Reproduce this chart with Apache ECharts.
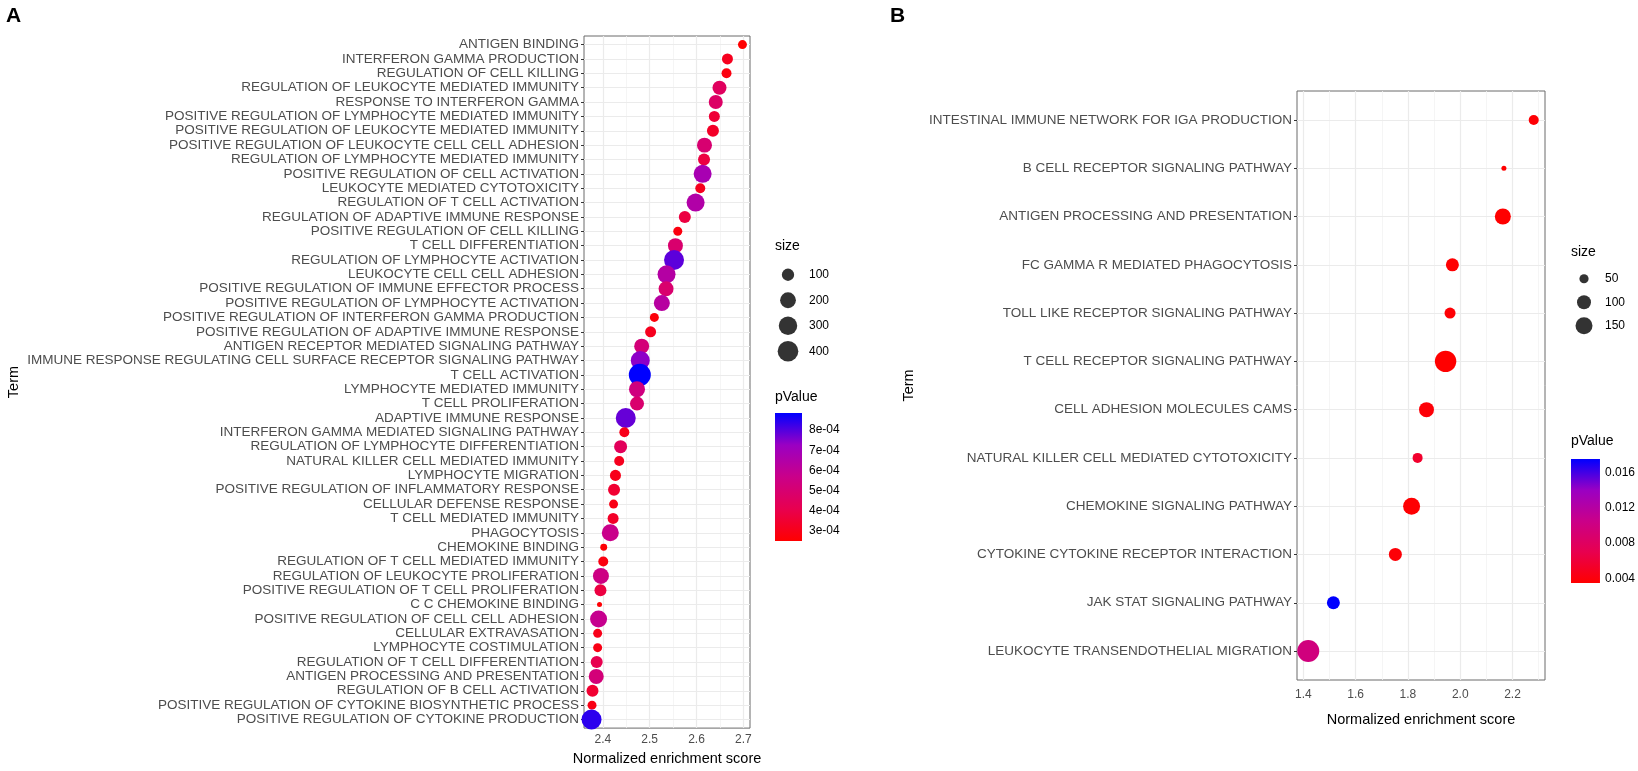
<!DOCTYPE html>
<html>
<head>
<meta charset="utf-8">
<script src="https://cdn.jsdelivr.net/npm/echarts@6/dist/echarts.min.js"></script>
<style>
  html, body { margin: 0; background: #fff; }
  #chart { width: 1638px; height: 771px; }
</style>
</head>
<body>
<div id="chart"></div>
<script>
// ---- panel A: GO terms ----
const termsA = [
  "ANTIGEN BINDING", "INTERFERON GAMMA PRODUCTION", "REGULATION OF CELL KILLING",
  "REGULATION OF LEUKOCYTE MEDIATED IMMUNITY", "RESPONSE TO INTERFERON GAMMA",
  "POSITIVE REGULATION OF LYMPHOCYTE MEDIATED IMMUNITY", "POSITIVE REGULATION OF LEUKOCYTE MEDIATED IMMUNITY",
  "POSITIVE REGULATION OF LEUKOCYTE CELL CELL ADHESION", "REGULATION OF LYMPHOCYTE MEDIATED IMMUNITY",
  "POSITIVE REGULATION OF CELL ACTIVATION", "LEUKOCYTE MEDIATED CYTOTOXICITY", "REGULATION OF T CELL ACTIVATION",
  "REGULATION OF ADAPTIVE IMMUNE RESPONSE", "POSITIVE REGULATION OF CELL KILLING", "T CELL DIFFERENTIATION",
  "REGULATION OF LYMPHOCYTE ACTIVATION", "LEUKOCYTE CELL CELL ADHESION", "POSITIVE REGULATION OF IMMUNE EFFECTOR PROCESS",
  "POSITIVE REGULATION OF LYMPHOCYTE ACTIVATION", "POSITIVE REGULATION OF INTERFERON GAMMA PRODUCTION",
  "POSITIVE REGULATION OF ADAPTIVE IMMUNE RESPONSE", "ANTIGEN RECEPTOR MEDIATED SIGNALING PATHWAY",
  "IMMUNE RESPONSE REGULATING CELL SURFACE RECEPTOR SIGNALING PATHWAY", "T CELL ACTIVATION",
  "LYMPHOCYTE MEDIATED IMMUNITY", "T CELL PROLIFERATION", "ADAPTIVE IMMUNE RESPONSE",
  "INTERFERON GAMMA MEDIATED SIGNALING PATHWAY", "REGULATION OF LYMPHOCYTE DIFFERENTIATION",
  "NATURAL KILLER CELL MEDIATED IMMUNITY", "LYMPHOCYTE MIGRATION", "POSITIVE REGULATION OF INFLAMMATORY RESPONSE",
  "CELLULAR DEFENSE RESPONSE", "T CELL MEDIATED IMMUNITY", "PHAGOCYTOSIS", "CHEMOKINE BINDING",
  "REGULATION OF T CELL MEDIATED IMMUNITY", "REGULATION OF LEUKOCYTE PROLIFERATION",
  "POSITIVE REGULATION OF T CELL PROLIFERATION", "C C CHEMOKINE BINDING", "POSITIVE REGULATION OF CELL CELL ADHESION",
  "CELLULAR EXTRAVASATION", "LYMPHOCYTE COSTIMULATION", "REGULATION OF T CELL DIFFERENTIATION",
  "ANTIGEN PROCESSING AND PRESENTATION", "REGULATION OF B CELL ACTIVATION",
  "POSITIVE REGULATION OF CYTOKINE BIOSYNTHETIC PROCESS", "POSITIVE REGULATION OF CYTOKINE PRODUCTION"
];
const nesA = [
  2.698, 2.666, 2.664, 2.649, 2.641, 2.638, 2.635, 2.617, 2.616, 2.613, 2.608, 2.598,
  2.575, 2.560, 2.555, 2.552, 2.536, 2.535, 2.526, 2.510, 2.502, 2.483, 2.480, 2.479,
  2.473, 2.473, 2.449, 2.446, 2.438, 2.435, 2.427, 2.424, 2.423, 2.422, 2.416, 2.402,
  2.401, 2.396, 2.395, 2.393, 2.391, 2.389, 2.389, 2.387, 2.386, 2.378, 2.377, 2.376
];
const sizeA = [
  40, 72, 54, 143, 143, 72, 92, 172, 92, 281, 54, 281,
  92, 40, 172, 369, 281, 172, 206, 40, 72, 172, 324, 470,
  206, 143, 369, 54, 116, 54, 72, 92, 40, 72, 242, 21,
  54, 206, 92, 15, 242, 40, 40, 92, 172, 92, 40, 369
];
const pvalA = [
  0.00025, 0.00031, 0.00028, 0.00045, 0.00047, 0.00036, 0.00033, 0.00050, 0.00038, 0.00068, 0.00031, 0.00065,
  0.00038, 0.00028, 0.00049, 0.00079, 0.00064, 0.00049, 0.00063, 0.00027, 0.00031, 0.00052, 0.00074, 0.000885,
  0.00054, 0.00049, 0.00078, 0.00030, 0.00044, 0.00031, 0.00030, 0.00035, 0.00029, 0.00033, 0.00057, 0.00026,
  0.00028, 0.00055, 0.00038, 0.00026, 0.00058, 0.00030, 0.00029, 0.00041, 0.00052, 0.00035, 0.00029, 0.00084
];
const xTicksA = [2.4, 2.5, 2.6, 2.7];
const xMinorA = [2.45, 2.55, 2.65];
const sizeBreaksA = [100, 200, 300, 400];
const pBreaksA = [0.0003, 0.0004, 0.0005, 0.0006, 0.0007, 0.0008];

// ---- panel B: KEGG pathways ----
const termsB = [
  "INTESTINAL IMMUNE NETWORK FOR IGA PRODUCTION", "B CELL RECEPTOR SIGNALING PATHWAY",
  "ANTIGEN PROCESSING AND PRESENTATION", "FC GAMMA R MEDIATED PHAGOCYTOSIS",
  "TOLL LIKE RECEPTOR SIGNALING PATHWAY", "T CELL RECEPTOR SIGNALING PATHWAY",
  "CELL ADHESION MOLECULES CAMS", "NATURAL KILLER CELL MEDIATED CYTOTOXICITY",
  "CHEMOKINE SIGNALING PATHWAY", "CYTOKINE CYTOKINE RECEPTOR INTERACTION",
  "JAK STAT SIGNALING PATHWAY", "LEUKOCYTE TRANSENDOTHELIAL MIGRATION"
];
const nesB = [2.281, 2.167, 2.163, 1.970, 1.961, 1.944, 1.871, 1.837, 1.814, 1.752, 1.515, 1.419];
const sizeB = [56, 36, 132, 87, 65, 250, 115, 56, 150, 87, 87, 265];
const pvalB = [0.0037, 0.0035, 0.0035, 0.0036, 0.0037, 0.0035, 0.0038, 0.0055, 0.0036, 0.0038, 0.0175, 0.0098];
const xTicksB = [1.4, 1.6, 1.8, 2.0, 2.2];
const xMinorB = [1.5, 1.7, 1.9, 2.1, 2.3];
const sizeBreaksB = [50, 100, 150];
const pBreaksB = [0.004, 0.008, 0.012, 0.016];

const FONT = '"Liberation Sans", Arial, sans-serif';
// red -> blue, stepped through Lab like ggplot's gradient
const pColors = ["#FF0000", "#E8004F", "#CA0089", "#9A00C3", "#0000FF"];

function padRange(vals) {
  const lo = Math.min(...vals), hi = Math.max(...vals);
  const d = (hi - lo) * 0.05;
  return [lo - d, hi + d];
}

// area-like size scale (ggplot scale_size)
function sizeScale(vals) {
  const lo = Math.min(...vals), hi = Math.max(...vals);
  return s => 5 + 17 * Math.sqrt(Math.max(0, s - lo) / (hi - lo));
}

function expLabel(v) {
  const e = Math.floor(Math.log10(v) + 1e-9);
  const m = Math.round(v / Math.pow(10, e));
  return m + "e" + (e < 0 ? "-" : "+") + String(Math.abs(e)).padStart(2, "0");
}

const option = {
  animation: false,
  backgroundColor: "#fff",
  textStyle: { fontFamily: FONT },
  title: [],
  grid: [],
  xAxis: [],
  yAxis: [],
  visualMap: [],
  series: []
};

function addPanel(p) {
  const o = option;
  const n = p.terms.length;
  const [xmin, xmax] = padRange(p.nes);
  const sz = sizeScale(p.size);
  const pmin = Math.min(...p.pval), pmax = Math.max(...p.pval);
  const rows = p.terms.map((t, i) => i);

  // main plot
  const g = o.grid.length;
  o.grid.push({ left: p.plot[0], top: p.plot[1], width: p.plot[2], height: p.plot[3],
    show: true, borderColor: "#6b6b6b", borderWidth: 1, backgroundColor: "#fff" });
  const xi = o.xAxis.length, yi = o.yAxis.length;
  o.xAxis.push({
    type: "value", gridIndex: g, min: xmin, max: xmax,
    axisLine: { show: false }, splitLine: { show: false },
    axisTick: { customValues: p.xTicks, length: 3, lineStyle: { color: "#333" } },
    axisLabel: { customValues: p.xTicks, formatter: v => v.toFixed(1), color: "#4d4d4d", fontSize: 12, margin: p.tickMargin },
    name: "Normalized enrichment score", nameLocation: "middle", nameGap: p.xNameGap,
    nameTextStyle: { color: "#000", fontSize: 14.5 }
  });
  o.yAxis.push({
    type: "value", gridIndex: g, inverse: true, min: -0.6, max: n - 0.4,
    axisLine: { show: false }, splitLine: { show: false },
    axisTick: { customValues: rows, length: 3, lineStyle: { color: "#333" } },
    axisLabel: { customValues: rows, formatter: v => p.terms[Math.round(v)] || "",
      color: "#4d4d4d", fontSize: p.labelSize, margin: 5 },
    name: "Term", nameLocation: "middle", nameGap: p.termGap,
    nameTextStyle: { color: "#000", fontSize: 14.5 }
  });

  const grid = [];
  p.xTicks.forEach(v => grid.push({ xAxis: v, lineStyle: { color: "#ebebeb", width: 1.2, type: "solid" } }));
  p.xMinor.forEach(v => grid.push({ xAxis: v, lineStyle: { color: "#f3f3f3", width: 0.8, type: "solid" } }));
  rows.forEach(v => grid.push({ yAxis: v, lineStyle: { color: "#ebebeb", width: 1.2, type: "solid" } }));

  const si = o.series.length;
  o.series.push({
    type: "scatter", xAxisIndex: xi, yAxisIndex: yi, z: 10, silent: true,
    data: p.nes.map((x, i) => [x, i, p.pval[i], p.size[i]]),
    symbolSize: v => sz(v[3]),
    itemStyle: { opacity: 1 },
    markLine: { z: 1, silent: true, symbol: ["none", "none"], label: { show: false },
      emphasis: { disabled: true }, animation: false, data: grid }
  });
  o.visualMap.push({
    type: "continuous", show: false, seriesIndex: si, dimension: 2,
    min: pmin, max: pmax, inRange: { color: pColors }
  });

  // size legend
  const L = p.legend;
  o.title.push({ text: "size", left: L.x, top: L.sizeTitle, padding: 0,
    textStyle: { fontFamily: FONT, fontSize: 14, fontWeight: "normal", color: "#000" } });
  const g2 = o.grid.length;
  const kh = L.keyH * p.sizeBreaks.length;
  o.grid.push({ left: L.x + 1, top: L.sizeTop, width: 24, height: kh });
  const xi2 = o.xAxis.length, yi2 = o.yAxis.length;
  o.xAxis.push({ type: "category", gridIndex: g2, data: ["k"], show: false });
  o.yAxis.push({ type: "category", gridIndex: g2, inverse: true, position: "right",
    data: p.sizeBreaks.map(String),
    axisLine: { show: false }, axisTick: { show: false }, splitLine: { show: false },
    axisLabel: { color: "#000", fontSize: 12, margin: 9 } });
  o.series.push({ type: "scatter", xAxisIndex: xi2, yAxisIndex: yi2, silent: true,
    itemStyle: { color: "#000" },
    data: p.sizeBreaks.map((b, i) => ({ value: [0, i], symbolSize: sz(b) })) });

  // colour bar
  o.title.push({ text: "pValue", left: L.x, top: L.pTitle, padding: 0,
    textStyle: { fontFamily: FONT, fontSize: 14, fontWeight: "normal", color: "#000" } });
  const g3 = o.grid.length;
  o.grid.push({ left: L.x, top: L.barTop, width: L.barW, height: L.barH });
  const xi3 = o.xAxis.length, yi3 = o.yAxis.length;
  o.xAxis.push({ type: "category", gridIndex: g3, data: ["c"], show: false });
  const tickWhite = { customValues: p.pBreaks, inside: true, length: Math.round(L.barW / 5), lineStyle: { color: "#fff", width: 1 } };
  o.yAxis.push({ type: "value", gridIndex: g3, position: "right", min: pmin, max: pmax, z: 10,
    axisLine: { show: false }, splitLine: { show: false }, axisTick: tickWhite,
    axisLabel: { customValues: p.pBreaks, formatter: p.pFormat, color: "#000", fontSize: 12, margin: L.labelGap } });
  o.yAxis.push({ type: "value", gridIndex: g3, position: "left", min: pmin, max: pmax, z: 10,
    axisLine: { show: false }, splitLine: { show: false }, axisTick: tickWhite,
    axisLabel: { show: false } });
  o.series.push({ type: "bar", xAxisIndex: xi3, yAxisIndex: yi3, stack: "cb" + g3, silent: true,
    barWidth: "100%", data: [pmin], itemStyle: { color: "rgba(0,0,0,0)" } });
  o.series.push({ type: "bar", xAxisIndex: xi3, yAxisIndex: yi3, stack: "cb" + g3, silent: true,
    barWidth: "100%", data: [pmax - pmin],
    itemStyle: { color: new echarts.graphic.LinearGradient(0, 0, 0, 1,
      pColors.slice().reverse().map((c, i) => ({ offset: i / (pColors.length - 1), color: c }))) } });

  o.title.push({ text: p.letter, left: p.letterPos[0], top: p.letterPos[1], padding: 0,
    textStyle: { fontFamily: FONT, fontSize: 21, fontWeight: "bold", color: "#000" } });
}

addPanel({
  letter: "A", letterPos: [6, 6],
  terms: termsA, nes: nesA, size: sizeA, pval: pvalA,
  xTicks: xTicksA, xMinor: xMinorA, sizeBreaks: sizeBreaksA, pBreaks: pBreaksA,
  pFormat: expLabel, labelSize: 13.5, termGap: 563, tickMargin: 6, xNameGap: 22,
  plot: [584, 36, 166, 699],
  legend: { x: 775, sizeTitle: 239, sizeTop: 262, keyH: 25.5, pTitle: 390, barTop: 413, barH: 128, barW: 27, labelGap: 7 }
});
addPanel({
  letter: "B", letterPos: [890, 6],
  terms: termsB, nes: nesB, size: sizeB, pval: pvalB,
  xTicks: xTicksB, xMinor: xMinorB, sizeBreaks: sizeBreaksB, pBreaks: pBreaksB,
  pFormat: v => v.toFixed(3), labelSize: 13.5, termGap: 381, tickMargin: 9, xNameGap: 32,
  plot: [1297, 91, 248, 589],
  legend: { x: 1571, sizeTitle: 245, sizeTop: 267, keyH: 23.5, pTitle: 434, barTop: 459, barH: 124, barW: 30, labelGap: 5 }
});

const chart = echarts.init(document.getElementById("chart"));
chart.setOption(option);
window.addEventListener("resize", () => chart.resize());
</script>
</body>
</html>
